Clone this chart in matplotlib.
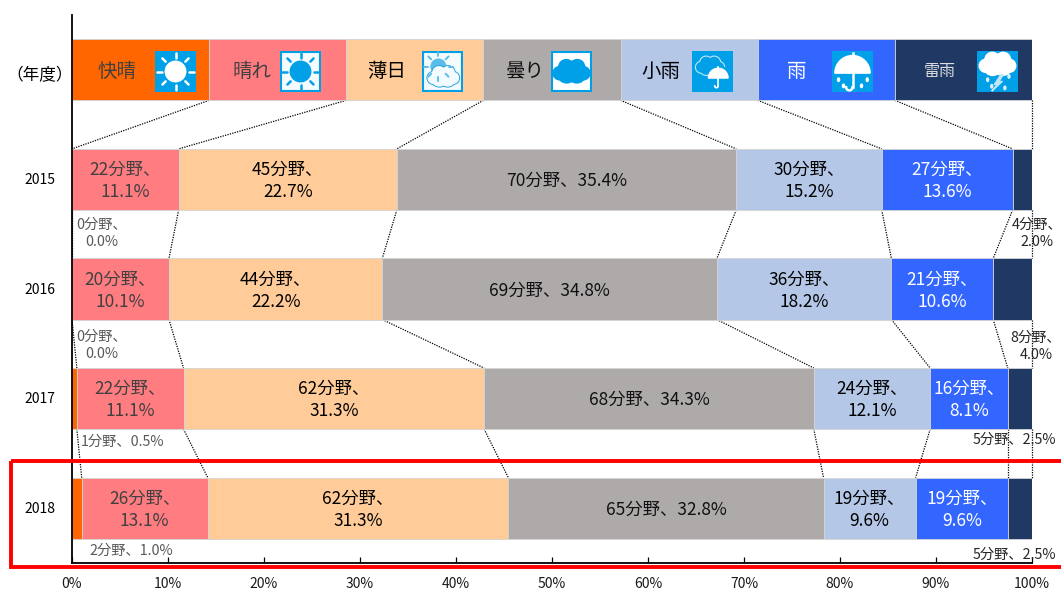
import numpy as np
import matplotlib
matplotlib.use('Agg')
import matplotlib.pyplot as plt
from matplotlib.patches import Circle, Ellipse, Polygon, Rectangle, Wedge

plt.rcParams['font.family'] = ['Noto Sans CJK JP', 'DejaVu Sans']

W, H = 1061, 590

years = ['（年度）', '2015', '2016', '2017', '2018']
colors = ['#FF6600', '#FF7C80', '#FFCC99', '#AEAAAA', '#B4C7E7', '#3366FF', '#1F3864']
legend_names = ['快晴', '晴れ', '薄日', '曇り', '小雨', '雨', '雷雨']
legend_row = [1, 1, 1, 1, 1, 1, 1]
row_2015 = [0, 22, 45, 70, 30, 27, 4]
row_2016 = [0, 20, 44, 69, 36, 21, 8]
row_2017 = [1, 22, 62, 68, 24, 16, 5]
row_2018 = [2, 26, 62, 65, 19, 19, 5]
pct_2015 = ['0.0%', '11.1%', '22.7%', '35.4%', '15.2%', '13.6%', '2.0%']
pct_2016 = ['0.0%', '10.1%', '22.2%', '34.8%', '18.2%', '10.6%', '4.0%']
pct_2017 = ['0.5%', '11.1%', '31.3%', '34.3%', '12.1%', '8.1%', '2.5%']
pct_2018 = ['1.0%', '13.1%', '31.3%', '32.8%', '9.6%', '9.6%', '2.5%']

rows = [legend_row, row_2015, row_2016, row_2017, row_2018]
pcts = [None, pct_2015, pct_2016, pct_2017, pct_2018]
shares = np.array([np.array(r) / sum(r) * 100 for r in rows])
cum = np.cumsum(shares, axis=1)

fig = plt.figure(figsize=(W / 100, H / 100), dpi=100)
ax = fig.add_axes([72 / W, 1 - 563 / H, 960 / W, 548 / H])

# stacked bars
for j in range(7):
    ax.barh(range(5), shares[:, j], left=cum[:, j] - shares[:, j], height=0.557,
            color=colors[j], edgecolor='#d4d4d4', linewidth=0.6, zorder=2)

# series lines between the rows
for i in range(4):
    for j in range(7):
        ax.plot([cum[i, j], cum[i + 1, j]], [i + 0.2785, i + 1 - 0.2785], color='black',
                lw=0.9, ls=(0, (1, 1)), zorder=1, clip_on=False)

ax.set_xlim(0, 100)
ax.set_ylim(4.5, -0.5)
ax.set_xticks(np.arange(0, 101, 10))
ax.set_xticklabels(['%d%%' % v for v in range(0, 101, 10)], fontsize=10, color='#1a1a1a')
ax.tick_params(axis='x', direction='in', length=4, width=0.9, pad=10)
ax.set_yticks([])
for s in ['top', 'right']:
    ax.spines[s].set_visible(False)
for s in ['left', 'bottom']:
    ax.spines[s].set_linewidth(1.3)
    ax.spines[s].set_zorder(5)

# labels inside the bars
text_color = ['#404040', '#404040', 'black', '#111111', 'black', 'white', 'white']
for i in range(1, 5):
    for j in range(1, 6):
        n = rows[i][j]
        if j == 3:
            s = '%d分野、%s' % (n, pcts[i][j])
        else:
            s = '%d分野、\n%s' % (n, pcts[i][j])
        ax.text(cum[i, j] - shares[i, j] / 2, i + 0.015, s, ha='center', va='center', fontsize=12.5,
                color=text_color[j], linespacing=1.32, zorder=6)

# full figure overlay in pixels for what sits outside the bars
ov = fig.add_axes([0, 0, 1, 1], facecolor='none')
ov.set_xlim(0, W)
ov.set_ylim(H, 0)
ov.axis('off')

ov.add_patch(Rectangle((11, 461), 1100, 106, fill=False, edgecolor='#FF0000', lw=2.8, clip_on=True))

for i, y in enumerate([76, 180, 290, 399, 509]):
    ov.text(40, y, years[i], ha='center', va='center', fontsize=12 if i == 0 else 10, color='black')

name_x = [116.5, 252, 387, 525, 661, 797, 940]
name_c = ['#404040', '#404040', 'black', '#111111', 'black', 'white', '#dddddd']
for j, nm in enumerate(legend_names):
    ov.text(name_x[j], 71.5, nm, ha='center', va='center', fontsize=11.5 if j == 6 else 14, color=name_c[j])

small = [(102, 233, '%d分野、\n%s' % (row_2015[0], pct_2015[0]), '#595959'),
         (102, 345, '%d分野、\n%s' % (row_2016[0], pct_2016[0]), '#595959'),
         (123, 442, '%d分野、%s' % (row_2017[0], pct_2017[0]), '#595959'),
         (131, 551, '%d分野、%s' % (row_2018[0], pct_2018[0]), '#595959'),
         (1037, 233, '%d分野、\n%s' % (row_2015[6], pct_2015[6]), '#262626'),
         (1036, 346, '%d分野、\n%s' % (row_2016[6], pct_2016[6]), '#262626'),
         (1014.5, 440, '%d分野、%s' % (row_2017[6], pct_2017[6]), '#262626'),
         (1014.5, 555, '%d分野、%s' % (row_2018[6], pct_2018[6]), '#262626')]
for x, y, s, c in small:
    ov.text(x, y, s, ha='center', va='center', fontsize=10.3, color=c, linespacing=1.28)

# weather icons
BLUE = '#00A0E9'


def icon_ax(x0, y0, bg):
    a = fig.add_axes([x0 / W, 1 - (y0 + 41) / H, 41 / W, 41 / H], facecolor=bg)
    a.set_xlim(0, 100)
    a.set_ylim(0, 100)
    a.set_xticks([])
    a.set_yticks([])
    for s in a.spines.values():
        s.set_visible(False)
    return a


def border(a):
    a.add_patch(Rectangle((2, 2), 96, 96, fill=False, ec=BLUE, lw=1.5))


def sun(a, cx, cy, r, r1, r2, c, lw=1.8):
    a.add_patch(Circle((cx, cy), r, color=c))
    for t in np.arange(0, 360, 45):
        ca, sa = np.cos(np.radians(t)), np.sin(np.radians(t))
        a.plot([cx + r1 * ca, cx + r2 * ca], [cy + r1 * sa, cy + r2 * sa], color=c, lw=lw, solid_capstyle='round')


def cloud(a, cx, cy, s, fc, ec=None, lw=1.2):
    parts = [(-27, -2, 34, 34), (-12, 12, 38, 38), (13, 12, 38, 38), (27, -2, 34, 34), (-11, -11, 38, 30), (12, -11, 38, 30)]
    if ec is not None:
        for dx, dy, w, h in parts:
            a.add_patch(Ellipse((cx + dx * s, cy + dy * s), w * s, h * s, fc=ec, ec=ec, lw=lw * 2))
    for dx, dy, w, h in parts:
        a.add_patch(Ellipse((cx + dx * s, cy + dy * s), w * s, h * s, fc=fc, ec='none'))


def umbrella(a, cx, cy, r, c, lw=1.6):
    a.add_patch(Wedge((cx, cy), r, 0, 180, color=c))
    a.plot([cx, cx], [cy + r, cy + r * 1.15], color=c, lw=lw)
    hook = r * 0.18
    t = np.radians(np.arange(180, 361, 15))
    a.plot([cx, cx], [cy, cy - r * 0.8], color=c, lw=lw)
    a.plot(cx - hook + hook * np.cos(t), cy - r * 0.8 + hook * np.sin(t), color=c, lw=lw)


def drops(a, pts, c, s=5):
    for px, py in pts:
        a.add_patch(Ellipse((px, py), s, s * 1.7, color=c))


a = icon_ax(155, 51, BLUE)
sun(a, 50, 50, 25, 34, 45, 'white')

a = icon_ax(280, 51, '#F4FBFE')
sun(a, 50, 50, 25, 34, 45, BLUE)
border(a)

a = icon_ax(422, 51, '#F4FBFE')
sun(a, 40, 62, 18, 25, 35, '#58BDEB', lw=1.4)
cloud(a, 52, 36, 0.88, '#F4FBFE', ec='#2AA5DD', lw=0.7)
border(a)

a = icon_ax(551, 51, 'white')
cloud(a, 50, 48, 1.06, BLUE)
border(a)

a = icon_ax(692, 51, BLUE)
cloud(a, 44, 62, 0.78, BLUE, ec='#BFE6F8', lw=0.8)
a.add_patch(Circle((66, 38), 25, color=BLUE))
umbrella(a, 64, 34, 24, 'white', lw=1.2)

a = icon_ax(832, 51, BLUE)
umbrella(a, 50, 46, 43, 'white', lw=1.8)
drops(a, [(16, 30), (28, 15), (72, 15), (86, 30)], 'white')

a = icon_ax(977, 51, BLUE)
cloud(a, 50, 66, 1.05, 'white')
a.add_patch(Polygon([(58, 42), (42, 18), (51, 20), (36, 2), (62, 26), (53, 25), (64, 42)], color='#BFE6F8'))
drops(a, [(26, 30), (36, 14), (78, 38), (68, 10)], '#D9F1FB')

plt.savefig('out.png', dpi=100)
